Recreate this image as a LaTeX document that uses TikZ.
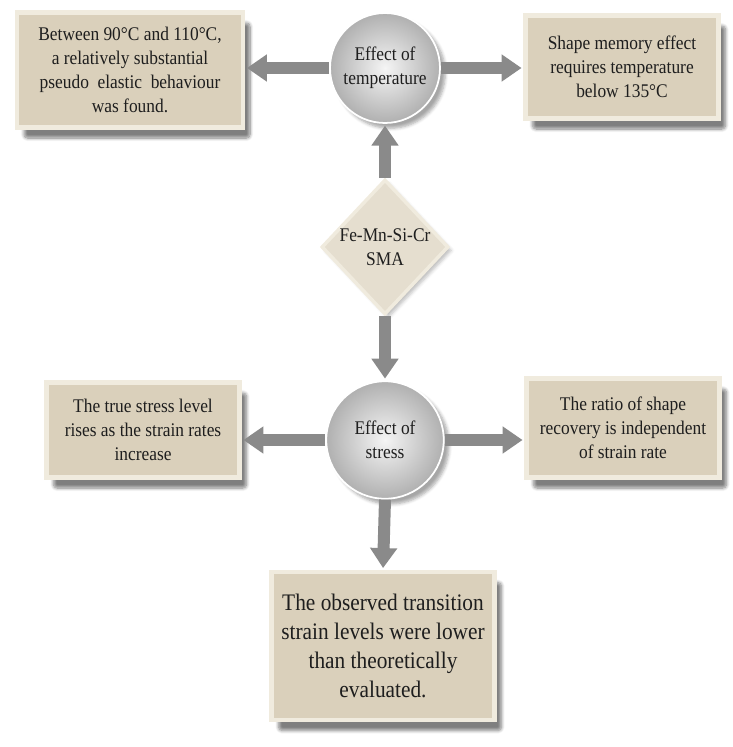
\documentclass[tikz,border=0pt]{standalone}
\usepackage{fontspec}
\setmainfont{Liberation Serif}[FakeStretch=0.9]
\usetikzlibrary{shapes.geometric,arrows.meta,shadows.blur}
\definecolor{linen}{RGB}{218,208,187}
\definecolor{linenedge}{RGB}{240,235,222}
\definecolor{ink}{RGB}{30,30,30}
\definecolor{steel}{RGB}{138,138,138}

\begin{document}
\begin{tikzpicture}[x=0.02cm, y=-0.02cm]
        \tikzset{
    note/.style={rectangle, fill=linen, draw=linenedge, line width=2.5pt, align=center, text=ink, inner sep=2pt,
      font=\fontsize{11}{13.5}\selectfont,
      blur shadow={shadow xshift=4pt, shadow yshift=-6pt, shadow blur steps=8, shadow blur extra rounding=2pt, shadow opacity=50}},
    ball/.style={circle, inner color=white!92!gray, outer color=gray!62, draw=white, line width=1pt, align=center,
      text=ink, font=\fontsize{11}{13.5}\selectfont,
      blur shadow={shadow xshift=3pt, shadow yshift=-3pt, shadow blur steps=5, shadow opacity=35}},
    gem/.style={diamond, fill=linen!70!white, draw=linenedge, line width=2pt, align=center, text=ink, inner sep=-3pt,
      font=\fontsize{11}{13.5}\selectfont,
      blur shadow={shadow xshift=2pt, shadow yshift=-2pt, shadow blur steps=4, shadow opacity=25}},
    conn/.style={draw=steel, line width=0.24cm, -{Triangle[length=0.4cm, width=0.52cm]}, shorten >=1pt},
        }
        \useasboundingbox (0,0) rectangle (733,747);

        % The alloy in the middle and the two effects.
        \node[gem, minimum width=2.54cm, minimum height=2.7cm] (alloy) at (385,247) {Fe-Mn-Si-Cr\\SMA};
        \node[ball, minimum size=2.2cm] (temp) at (385,68) {Effect of\\temperature};
        \node[ball, minimum size=2.35cm] (stress) at (385,440) {Effect of\\stress};

        % Findings for temperature.
        \node[note, minimum width=4.52cm, minimum height=2.3cm] (tbetween) at (130,70)
          {Between 90°C and 110°C,\\a relatively substantial\\pseudo\ \ elastic\ \ behaviour\\was found.};
        \node[note, minimum width=3.86cm, minimum height=2.06cm] (tbelow) at (622,67)
          {Shape memory effect\\requires temperature\\below 135°C};

        % Findings for stress.
        \node[note, minimum width=3.86cm, minimum height=1.9cm] (struestress) at (143,430)
          {The true stress level\\rises as the strain rates\\increase};
        \node[note, minimum width=3.86cm, minimum height=1.98cm] (sratio) at (623,428)
          {The ratio of shape\\recovery is independent\\of strain rate};
        \node[note, minimum width=4.46cm, minimum height=2.96cm, font=\fontsize{13.5}{16.5}\selectfont] (sobserved) at (383,646)
          {The observed transition\\strain levels were lower\\than theoretically\\evaluated.};

        % Block arrows.
        \draw[conn] (alloy.north) -- (temp.south);
        \draw[conn] (alloy.south) -- (stress.north);
        \draw[conn] (temp.west) -- (temp.west -| tbetween.east);
        \draw[conn] (temp.east) -- (temp.east -| tbelow.west);
        \draw[conn] (stress.west) -- (stress.west -| struestress.east);
        \draw[conn] (stress.east) -- (stress.east -| sratio.west);
        \draw[conn] (stress.south) -- (sobserved.north);
      \end{tikzpicture}
\end{document}
